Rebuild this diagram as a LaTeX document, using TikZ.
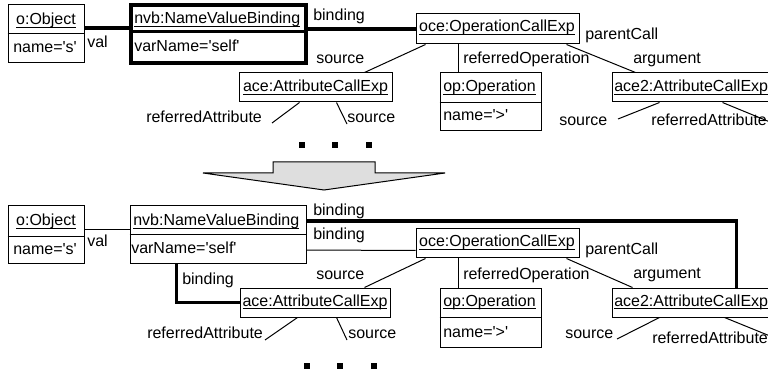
\documentclass[tikz,border=0pt]{standalone}
\usepackage{fontspec}
\setmainfont{Liberation Sans}[Ligatures=TeXOff]
\usetikzlibrary{fit,calc}
\newcommand\ulin[1]{\setbox0=\hbox{#1}\rlap{\rule[-2.6pt]{\wd0}{0.8pt}}\box0}
\definecolor{arrowgray}{RGB}{222,222,222}
\tikzset{
  objbox/.style={draw, line width=0.75pt, inner sep=0pt},
  thickbox/.style={draw, line width=2.3pt, inner sep=0pt},
  txt/.style={anchor=base west, inner sep=0pt},
  ctxt/.style={anchor=base, inner sep=0pt},
  conn/.style={line width=0.75pt},
  thickconn/.style={line width=2.4pt},
  dotsq/.style={fill=black, rectangle, inner sep=0pt, minimum size=4.5pt},
  bigarrow/.style={draw, line width=0.75pt, fill=arrowgray, line join=miter}
}
\begin{document}
\begin{tikzpicture}[x=0.75pt,y=-0.75pt,font=\fontsize{12}{14}\selectfont]
\useasboundingbox (0,0) rectangle (768,374);

% ================= TOP =================
\node[objbox, fit={(8,5) (84,63)}] (o) {};
\draw[conn] ($(o.north west)+(0,29)$) -- ($(o.north east)+(0,29)$);
\node[ctxt] (ohd) at (46,25) {\ulin{o:Object}};
\node[txt] (oat) at (13,53) {name='s'};

\node[thickbox, fit={(131,5) (306,63)}] (nvb) {};
\draw[line width=2.3pt] ($(nvb.north west)+(0,28)$) -- ($(nvb.north east)+(0,28)$);
\node[txt] (nvbhd) at (134,24) {\ulin{nvb:NameValueBinding}};
\node[txt] (nvbat) at (134,52) {varName='self'};

\node[objbox, fit={(416,14) (579,44)}] (oce) {};
\node[ctxt] (ocehd) at (497,32) {\ulin{oce:OperationCallExp}};

\node[objbox, fit={(239,73) (392,102)}] (ace) {};
\node[ctxt] (acehd) at (315.5,92) {\ulin{ace:AttributeCallExp}};

\node[objbox, fit={(440,73) (541,131)}] (op) {};
\draw[conn] ($(op.north west)+(0,30)$) -- ($(op.north east)+(0,30)$);
\node[txt] (ophd) at (443,92) {\ulin{op:Operation}};
\node[txt] (opat) at (443,121) {name='>'};

\node[objbox, fit={(612,73) (772,102)}] (acetwo) {};
\node[txt] (acetwohd) at (614,92) {\ulin{ace2:AttributeCallExp}};

% connectors top
\draw[thickconn] ($(o.east)+(0,-6)$) -- ($(nvb.west)+(0,-6)$);
\draw[thickconn] ($(nvb.east)+(0,-5)$) -- (oce.west);
\draw[conn] ($(oce.south west)+(10,0)$) -- ($(ace.north west)+(126,0)$);
\draw[conn] ($(oce.south west)+(43,0)$) -- ($(op.north west)+(19,0)$);
\draw[conn] ($(oce.south east)+(-13,0)$) -- ($(acetwo.north west)+(24,0)$);
\coordinate (ta1) at (272,123);
\coordinate (ta2) at (347,124);
\coordinate (ta3) at (618,119);
\coordinate (ta4) at (770,122);
\draw[conn] ($(ace.south west)+(61,0)$) -- (ta1);
\draw[conn] ($(ace.south west)+(98,0)$) -- (ta2);
\draw[conn] ($(acetwo.south west)+(48,0)$) -- (ta3);
\draw[conn] ($(acetwo.south west)+(111,0)$) -- (ta4);

% labels top
\node[txt] (l1) at (87,48) {val};
\node[txt] (l2) at (313,21) {binding};
\node[txt] (l3) at (316,64) {source};
\node[txt] (l4) at (463,64) {referredOperation};
\node[txt] (l5) at (585,40) {parentCall};
\node[txt] (l6) at (633,64) {argument};
\node[txt] (l7) at (146,123) {referredAttribute};
\node[txt] (l8) at (347,123) {source};
\node[txt] (l9) at (559,126) {source};
\node[txt] (l10) at (651,126) {referredAttribute};

% dots top
\node[dotsq] (d1) at (302,145) {};
\node[dotsq] (d2) at (335,145) {};
\node[dotsq] (d3) at (369,145) {};

% big arrow
\draw[bigarrow] (273,162) -- (375,162) -- (375,173) -- (445,173) -- (324,190) -- (203,173) -- (273,173) -- cycle;

% ================= BOTTOM =================
\node[objbox, fit={(8,206) (84,264)}] (ob) {};
\draw[conn] ($(ob.north west)+(0,31)$) -- ($(ob.north east)+(0,31)$);
\node[ctxt] (obhd) at (46,226) {\ulin{o:Object}};
\node[txt] (obat) at (13,254) {name='s'};

\node[objbox, fit={(130,206) (306,264)}] (nvbb) {};
\draw[conn] ($(nvbb.north west)+(0,29)$) -- ($(nvbb.north east)+(0,29)$);
\node[txt] (nvbbhd) at (133,226) {\ulin{nvb:NameValueBinding}};
\node[txt] (nvbbat) at (131,253) {varName='self'};

\node[objbox, fit={(416,229) (579,258)}] (oceb) {};
\node[ctxt] (ocebhd) at (497,247) {\ulin{oce:OperationCallExp}};

\node[objbox, fit={(240,288) (390,317)}] (aceb) {};
\node[ctxt] (acebhd) at (315,306) {\ulin{ace:AttributeCallExp}};

\node[objbox, fit={(440,288) (541,347)}] (opb) {};
\draw[conn] ($(opb.north west)+(0,30)$) -- ($(opb.north east)+(0,30)$);
\node[txt] (opbhd) at (443,306) {\ulin{op:Operation}};
\node[txt] (opbat) at (443,337) {name='>'};

\node[objbox, fit={(612,288) (772,317)}] (acetwob) {};
\node[txt] (acetwobhd) at (614,306) {\ulin{ace2:AttributeCallExp}};

% connectors bottom
\draw[conn] ($(ob.east)+(0,-5)$) -- ($(nvbb.west)+(0,-5)$);
\draw[thickconn] ($(nvbb.east)+(0,-14)$) -| ($(acetwob.north west)+(125,0)$);
\draw[conn] ($(nvbb.east)+(0,15)$) -- ($(oceb.south west)+(0,-8)$);
\draw[thickconn] ($(nvbb.south west)+(47,0)$) |- (aceb.west);
\draw[conn] ($(oceb.south west)+(10,0)$) -- ($(aceb.north west)+(125,0)$);
\draw[conn] ($(oceb.south west)+(43,0)$) -- ($(opb.north west)+(19,0)$);
\draw[conn] ($(oceb.south east)+(-13,0)$) -- ($(acetwob.north west)+(21,0)$);
\coordinate (ba1) at (265,340);
\coordinate (ba2) at (347,340);
\coordinate (ba3) at (617,339);
\coordinate (ba4) at (770,336);
\draw[conn] ($(aceb.south west)+(58,0)$) -- (ba1);
\draw[conn] ($(aceb.south west)+(97,0)$) -- (ba2);
\draw[conn] ($(acetwob.south west)+(48,0)$) -- (ba3);
\draw[conn] ($(acetwob.south west)+(113,0)$) -- (ba4);

% labels bottom
\node[txt] (m1) at (87,247) {val};
\node[txt] (m2) at (313,216) {binding};
\node[txt] (m3) at (313,239) {binding};
\node[txt] (m4) at (182,284) {binding};
\node[txt] (m5) at (316,279) {source};
\node[txt] (m6) at (463,279) {referredOperation};
\node[txt] (m7) at (585,255) {parentCall};
\node[txt] (m8) at (633,278) {argument};
\node[txt] (m9) at (147,338) {referredAttribute};
\node[txt] (m10) at (348,338) {source};
\node[txt] (m11) at (565,338) {source};
\node[txt] (m12) at (652,343) {referredAttribute};

% dots bottom
\node[dotsq] (e1) at (307,366) {};
\node[dotsq] (e2) at (340,366) {};
\node[dotsq] (e3) at (374,366) {};
\end{tikzpicture}
\end{document}
